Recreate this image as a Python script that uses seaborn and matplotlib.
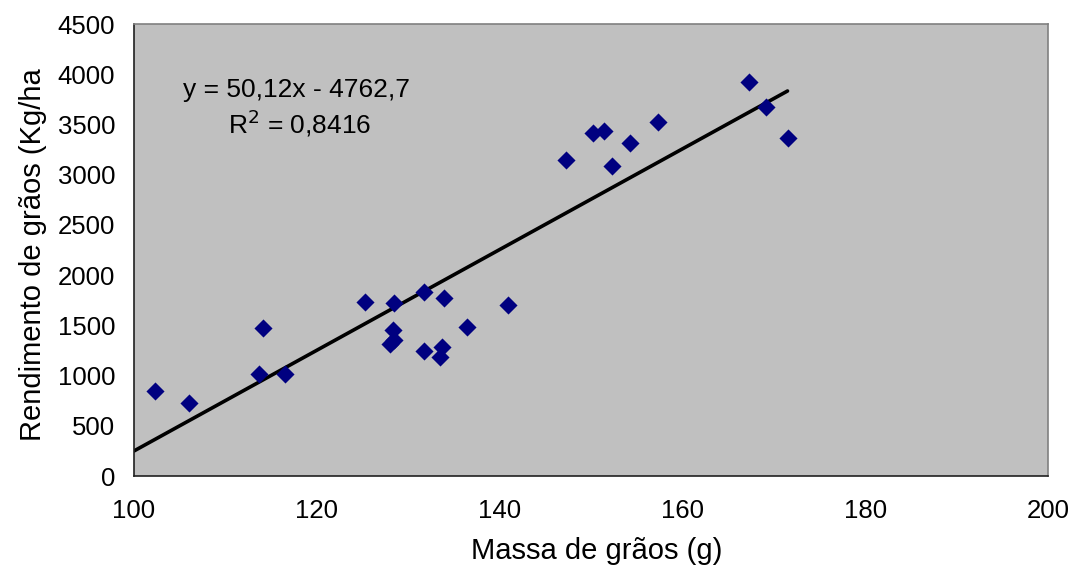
import matplotlib
matplotlib.use("Agg")
import matplotlib.pyplot as plt
import seaborn as sns
import numpy as np
import pandas as pd

# Data
massa = [102.3, 106.0, 113.7, 114.1, 116.5, 125.3, 128.4, 131.75, 133.95, 128.3,
         128.45, 128.0, 131.76, 133.73, 133.5, 136.4, 140.9, 147.27, 150.25, 151.42,
         152.3, 154.27, 157.3, 167.3, 169.1, 171.5]
rendimento = [846, 727, 1016, 1474, 1016, 1733, 1723, 1830, 1776, 1454,
              1355, 1318, 1245, 1282, 1182, 1487, 1700, 3144, 3413, 3430,
              3088, 3314, 3523, 3921, 3672, 3370]
slope = 50.12
intercept = -4762.7
trend_range = [100, 171.5]
x_ticks = [100, 120, 140, 160, 180, 200]
y_ticks = [0, 500, 1000, 1500, 2000, 2500, 3000, 3500, 4000, 4500]

sns.set_theme(style="white")
plt.rcParams['font.family'] = ['Liberation Sans', 'DejaVu Sans']

fig = plt.figure(figsize=(10.73, 5.66), dpi=100)
ax = fig.add_axes([134/1073, 1-476/566, (1048-134)/1073, (476-24)/566])
ax.set_facecolor('#C0C0C0')

df = pd.DataFrame({'x': massa, 'y': rendimento})
sns.scatterplot(data=df, x='x', y='y', ax=ax, marker='D', s=85, color='#000080',
                edgecolor='#000080', linewidth=0, zorder=3)

tx = np.array(trend_range)
tdf = pd.DataFrame({'x': tx, 'y': slope * tx + intercept})
sns.lineplot(data=tdf, x='x', y='y', ax=ax, color='black', linewidth=2.6, zorder=2)

ax.set_xlim(100, 200)
ax.set_ylim(0, 4500)
ax.set_xticks(x_ticks)
ax.set_yticks(y_ticks)
ax.tick_params(axis='both', which='major', direction='out', length=5.5, width=1,
               color='#404040', labelsize=18.5, labelcolor='black')
ax.tick_params(axis='y', pad=8)
ax.tick_params(axis='x', pad=11)

for side in ['left', 'bottom']:
    ax.spines[side].set_color('#202020')
    ax.spines[side].set_linewidth(1.2)
for side in ['right', 'top']:
    ax.spines[side].set_color('#808080')
    ax.spines[side].set_linewidth(1.2)

ax.set_xlabel('Massa de grãos (g)', fontsize=21, color='black')
ax.set_ylabel('Rendimento de grãos (Kg/ha', fontsize=21, color='black')
ax.yaxis.set_label_coords(-0.095, 0.49)
ax.xaxis.set_label_coords(0.5066, -0.135)

ax.text(0.0535, 0.855, 'y = 50,12x - 4762,7', transform=ax.transAxes, fontsize=19,
        color='black', ha='left', va='center')
ax.text(0.103, 0.78, 'R$^2$ = 0,8416', transform=ax.transAxes, fontsize=19,
        color='black', ha='left', va='center')

fig.savefig('out.png', dpi=100, facecolor='white')
